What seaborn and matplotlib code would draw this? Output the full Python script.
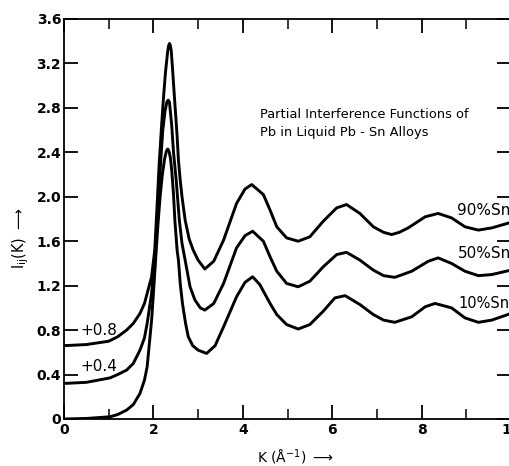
import matplotlib
matplotlib.use("Agg")
import matplotlib.pyplot as plt
import seaborn as sns
import pandas as pd
from matplotlib.ticker import MultipleLocator, FixedLocator

# ---- data ----
k_90 = [0, 0.5, 1.0, 1.2, 1.4, 1.55, 1.7, 1.8, 1.86, 1.96, 2.03, 2.08, 2.13, 2.18, 2.22, 2.27,
        2.32, 2.34, 2.36, 2.38, 2.40, 2.43, 2.48, 2.53, 2.56, 2.60, 2.64, 2.71, 2.80, 2.89, 3.00,
        3.15, 3.35, 3.57, 3.86, 4.05, 4.20, 4.46, 4.61, 4.76, 4.98, 5.24, 5.50, 5.80, 6.10, 6.32,
        6.62, 6.92, 7.15, 7.33, 7.50, 7.70, 8.08, 8.37, 8.67, 8.97, 9.27, 9.57, 10.0]
i_90 = [0.66, 0.67, 0.70, 0.74, 0.80, 0.86, 0.95, 1.04, 1.13, 1.28, 1.52, 1.90, 2.30, 2.62, 2.86, 3.12,
        3.31, 3.36, 3.38, 3.36, 3.31, 3.14, 2.84, 2.55, 2.33, 2.15, 2.00, 1.79, 1.62, 1.52, 1.43,
        1.35, 1.42, 1.61, 1.94, 2.07, 2.11, 2.02, 1.88, 1.73, 1.63, 1.60, 1.64, 1.78, 1.90, 1.93,
        1.85, 1.73, 1.68, 1.66, 1.68, 1.72, 1.82, 1.85, 1.81, 1.73, 1.70, 1.72, 1.77]

k_50 = [0, 0.5, 1.03, 1.2, 1.4, 1.55, 1.7, 1.8, 1.86, 1.96, 2.04, 2.10, 2.16, 2.21, 2.26, 2.30,
        2.33, 2.36, 2.41, 2.45, 2.51, 2.58, 2.64, 2.71, 2.82, 2.93, 3.05, 3.15, 3.35, 3.57, 3.86,
        4.05, 4.22, 4.46, 4.61, 4.76, 4.98, 5.24, 5.50, 5.80, 6.10, 6.32, 6.62, 6.92, 7.15, 7.40,
        7.78, 8.15, 8.37, 8.67, 8.97, 9.27, 9.57, 10.0]
i_50 = [0.32, 0.33, 0.37, 0.40, 0.44, 0.50, 0.62, 0.73, 0.86, 1.13, 1.50, 1.90, 2.30, 2.60, 2.77, 2.85,
        2.87, 2.85, 2.64, 2.40, 2.15, 1.79, 1.58, 1.43, 1.19, 1.07, 1.00, 0.98, 1.04, 1.22, 1.54,
        1.65, 1.69, 1.60, 1.46, 1.33, 1.22, 1.19, 1.24, 1.37, 1.48, 1.50, 1.43, 1.34, 1.29, 1.275,
        1.33, 1.42, 1.45, 1.40, 1.33, 1.29, 1.30, 1.34]

k_10 = [0, 0.5, 1.03, 1.2, 1.4, 1.55, 1.7, 1.8, 1.86, 1.96, 2.02, 2.06, 2.10, 2.15, 2.20, 2.25,
        2.29, 2.32, 2.35, 2.38, 2.41, 2.45, 2.48, 2.53, 2.56, 2.60, 2.65, 2.72, 2.78, 2.88, 3.00,
        3.19, 3.38, 3.57, 3.86, 4.05, 4.22, 4.38, 4.61, 4.76, 4.98, 5.24, 5.50, 5.80, 6.06, 6.29,
        6.62, 6.92, 7.15, 7.40, 7.78, 8.08, 8.30, 8.67, 8.97, 9.27, 9.57, 10.0]
i_10 = [0.0, 0.005, 0.02, 0.04, 0.08, 0.13, 0.23, 0.35, 0.47, 0.89, 1.25, 1.50, 1.74, 2.00, 2.20, 2.34,
        2.41, 2.43, 2.41, 2.35, 2.24, 2.02, 1.79, 1.52, 1.43, 1.22, 1.04, 0.86, 0.74, 0.66, 0.62,
        0.59, 0.66, 0.83, 1.10, 1.23, 1.28, 1.21, 1.04, 0.94, 0.85, 0.81, 0.85, 0.97, 1.09, 1.11,
        1.03, 0.94, 0.89, 0.87, 0.92, 1.01, 1.04, 1.00, 0.91, 0.87, 0.89, 0.95]

series_labels = ["90%Sn", "50%Sn", "10%Sn"]
offset_labels = ["+0.8", "+0.4"]
x_ticks = [0, 2, 4, 6, 8, 10]
y_ticks = [0, 0.4, 0.8, 1.2, 1.6, 2.0, 2.4, 2.8, 3.2, 3.6]
y_tick_labels = ["0", "0.4", "0.8", "1.2", "1.6", "2.0", "2.4", "2.8", "3.2", "3.6"]
title_lines = ["Partial Interference Functions of", "Pb in Liquid Pb - Sn Alloys"]

# ---- figure ----
sns.set_style("ticks")
plt.rcParams["font.family"] = ["DejaVu Sans"]
plt.rcParams["text.color"] = "black"

fig = plt.figure(figsize=(5.10, 4.66), dpi=100)
ax = fig.add_axes([64 / 510, 1 - 419 / 466, (511 - 64) / 510, (419 - 19) / 466])

frames = []
for name, k, v in [("90", k_90, i_90), ("50", k_50, i_50), ("10", k_10, i_10)]:
    frames.append(pd.DataFrame({"K": k, "I": v, "series": name}))
df = pd.concat(frames, ignore_index=True)

for name in ["90", "50", "10"]:
    sub = df[df["series"] == name]
    sns.lineplot(data=sub, x="K", y="I", ax=ax, color="black", lw=2.1,
                 sort=False, estimator=None)

ax.set_xlim(0, 10)
ax.set_ylim(0, 3.6)
ax.set_xlabel("")
ax.set_ylabel("")

ax.xaxis.set_major_locator(FixedLocator(x_ticks))
ax.xaxis.set_minor_locator(MultipleLocator(1))
ax.set_xticklabels([str(t) for t in x_ticks])
ax.yaxis.set_major_locator(FixedLocator(y_ticks))
ax.set_yticklabels(y_tick_labels)

ax.tick_params(axis="both", which="major", direction="in", length=10, width=1.3,
               top=True, right=True, labelsize=10, colors="black", pad=3)
ax.tick_params(axis="x", which="minor", direction="in", length=7, width=1.3, top=True)
for lab in ax.get_xticklabels() + ax.get_yticklabels():
    lab.set_fontweight("bold")
ax.tick_params(axis="y", pad=2)

for sp in ax.spines.values():
    sp.set_visible(True)
    sp.set_linewidth(1.3)
    sp.set_color("black")

# annotations
txt_kw = dict(color="black", fontsize=11, va="center", ha="left")
ax.text(8.79, 1.88, series_labels[0], **txt_kw)
ax.text(8.81, 1.49, series_labels[1], **txt_kw)
ax.text(8.83, 1.04, series_labels[2], color="black", fontsize=10.5, va="center", ha="left")
ax.text(0.36, 0.80, offset_labels[0], **txt_kw)
ax.text(0.36, 0.47, offset_labels[1], **txt_kw)
ax.text(4.38, 2.74, title_lines[0], fontsize=9.4, va="center", ha="left", color="black")
ax.text(4.38, 2.575, title_lines[1], fontsize=9.4, va="center", ha="left", color="black")

fig.text(296 / 510, 1 - 457 / 466, r"K ($\mathrm{\AA}^{-1}$) $\longrightarrow$",
         ha="center", va="center", fontsize=10, color="black")
fig.text(21 / 510, 1 - 238 / 466, r"I$_{\mathrm{ij}}$(K) $\longrightarrow$",
         ha="center", va="center", fontsize=10.5, rotation=90, color="black")

fig.savefig("out.png", dpi=100)
